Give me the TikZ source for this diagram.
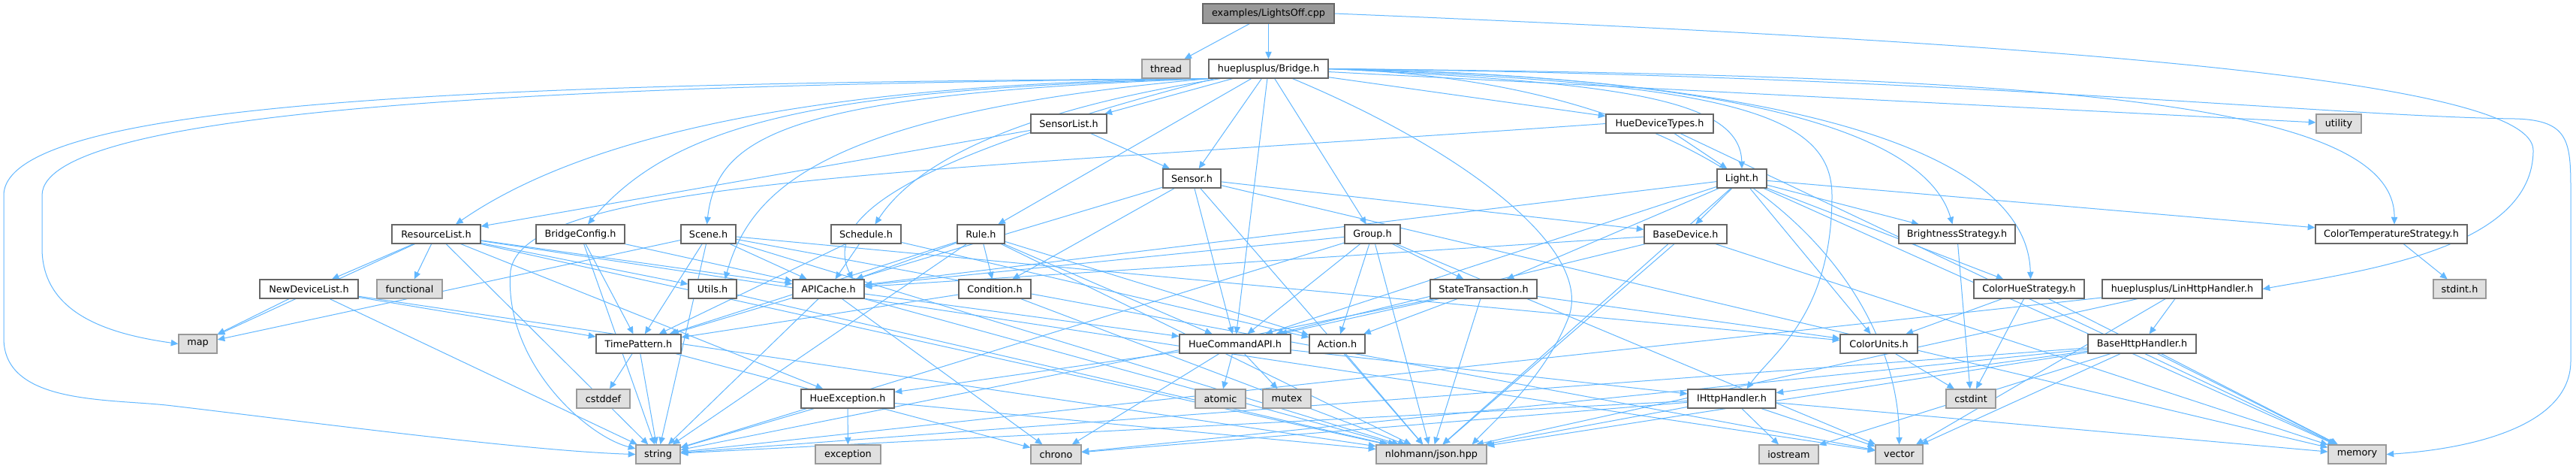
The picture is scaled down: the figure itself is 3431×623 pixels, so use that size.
\documentclass[tikz,border=0pt]{standalone}
\usepackage{fontspec}
\setmainfont{DejaVu Sans}
\usetikzlibrary{arrows.meta}
\definecolor{edgec}{HTML}{63B8FF}
\definecolor{fileb}{HTML}{666666}
\definecolor{extf}{HTML}{E0E0E0}
\definecolor{extb}{HTML}{999999}
\definecolor{rootf}{HTML}{999999}
\pgfdeclarelayer{paper}
\pgfdeclarelayer{edges}
\pgfsetlayers{paper,edges,main}
\tikzset{
  nbase/.style={draw, line width=0.65pt, inner sep=0pt, font=\fontsize{6.4}{7.5}\selectfont, text=black},
  file/.style={nbase, fill=white, draw=fileb},
  ext/.style={nbase, fill=extf, draw=extb},
  rootn/.style={nbase, fill=rootf, draw=fileb},
  edge/.style={draw=edgec, line width=0.5pt, -{Triangle[length=4.8pt,width=4.2pt]}},
}
\newcommand{\dnode}[7]{\node[#1, minimum width={(#5-#3)*0.5pt}, minimum height={(#6-#4)*0.5pt}] (#2) at ({(#3+#5)/2},{(#4+#6)/2}) {#7};}
\begin{document}
\begin{tikzpicture}[x=0.5pt,y=-0.5pt]
\begin{pgfonlayer}{paper}
\fill[white] (0,0) rectangle (3431,623);
\end{pgfonlayer}
\useasboundingbox (0,0) rectangle (3431,623);
% nodes
\dnode{rootn}{root}{1602}{5}{1777}{31}{examples/LightsOff.cpp}
\dnode{ext}{thread}{1521}{79}{1585}{104}{thread}
\dnode{file}{bridge}{1610}{79}{1769}{104}{hueplusplus/Bridge.h}
\dnode{file}{sensorlist}{1373}{152}{1474}{177}{SensorList.h}
\dnode{file}{huedev}{2139}{152}{2282}{177}{HueDeviceTypes.h}
\dnode{ext}{utility}{3085}{152}{3145}{177}{utility}
\dnode{file}{sensor}{1549}{225}{1626}{250}{Sensor.h}
\dnode{file}{light}{2287}{225}{2353}{250}{Light.h}
\dnode{file}{reslist}{522}{299}{640}{324}{ResourceList.h}
\dnode{file}{bconf}{714}{299}{832}{324}{BridgeConfig.h}
\dnode{file}{scene}{907}{299}{980}{324}{Scene.h}
\dnode{file}{schedule}{1107}{299}{1200}{324}{Schedule.h}
\dnode{file}{rule}{1275}{299}{1338}{324}{Rule.h}
\dnode{file}{group}{1791}{299}{1865}{324}{Group.h}
\dnode{file}{basedev}{2190}{299}{2300}{324}{BaseDevice.h}
\dnode{file}{bright}{2529}{299}{2684}{324}{BrightnessStrategy.h}
\dnode{file}{ctemp}{3084}{299}{3286}{324}{ColorTemperatureStrategy.h}
\dnode{file}{newdev}{346}{372}{477}{397}{NewDeviceList.h}
\dnode{ext}{functional}{502}{372}{589}{397}{functional}
\dnode{file}{utils}{917}{372}{981}{397}{Utils.h}
\dnode{file}{apicache}{1056}{372}{1151}{397}{APICache.h}
\dnode{file}{condition}{1277}{372}{1373}{397}{Condition.h}
\dnode{file}{statet}{1905}{372}{2047}{397}{StateTransaction.h}
\dnode{file}{chue}{2629}{372}{2776}{397}{ColorHueStrategy.h}
\dnode{file}{linhttp}{2800}{372}{3013}{397}{hueplusplus/LinHttpHandler.h}
\dnode{ext}{stdinth}{3241}{372}{3311}{397}{stdint.h}
\dnode{ext}{map}{238}{445}{289}{470}{map}
\dnode{file}{timep}{794}{445}{907}{470}{TimePattern.h}
\dnode{file}{huecmd}{1571}{445}{1719}{470}{HueCommandAPI.h}
\dnode{file}{action}{1744}{445}{1818}{470}{Action.h}
\dnode{file}{cunits}{2451}{445}{2554}{470}{ColorUnits.h}
\dnode{file}{basehttp}{2781}{445}{2925}{470}{BaseHttpHandler.h}
\dnode{ext}{cstddef}{768}{518}{839}{543}{cstddef}
\dnode{file}{hueexc}{1067}{518}{1191}{543}{HueException.h}
\dnode{ext}{atomic}{1592}{518}{1659}{543}{atomic}
\dnode{ext}{mutex}{1682}{518}{1746}{543}{mutex}
\dnode{file}{ihttp}{2248}{518}{2365}{543}{IHttpHandler.h}
\dnode{ext}{cstdint}{2592}{518}{2658}{543}{cstdint}
\dnode{ext}{string}{847}{592}{906}{617}{string}
\dnode{ext}{exception}{1086}{592}{1173}{617}{exception}
\dnode{ext}{chrono}{1373}{592}{1440}{617}{chrono}
\dnode{ext}{json}{1833}{592}{1980}{617}{nlohmann/json.hpp}
\dnode{ext}{iostream}{2343}{592}{2422}{617}{iostream}
\dnode{ext}{vector}{2498}{592}{2561}{617}{vector}
\dnode{ext}{memory}{3101}{592}{3178}{617}{memory}
\begin{pgfonlayer}{edges}
% straight connectors
\foreach \a/\b in {root/thread, root/bridge,
  bridge/sensorlist, bridge/sensor, bridge/rule, bridge/group, bridge/huedev, bridge/huecmd, bridge/utility,
  sensorlist/reslist, sensorlist/sensor,
  huedev/light, huedev/memory,
  sensor/basedev, sensor/huecmd, sensor/timep, sensor/condition, sensor/json, sensor/memory,
  light/basedev, light/bright, light/chue, light/ctemp, light/statet, light/huecmd, light/apicache, light/cunits, light/json, light/memory,
  reslist/newdev, reslist/functional, reslist/map, reslist/string, reslist/vector, reslist/utils, reslist/apicache, reslist/hueexc, reslist/json,
  bconf/apicache, bconf/timep, bconf/string,
  scene/map, scene/string, scene/vector, scene/apicache, scene/cunits, scene/timep, scene/json,
  schedule/apicache, schedule/timep, schedule/action,
  rule/condition, rule/huecmd, rule/apicache, rule/timep, rule/action, rule/json, rule/string,
  group/apicache, group/action, group/huecmd, group/statet, group/json, group/string, group/vector,
  basedev/apicache, basedev/huecmd, basedev/json, basedev/memory,
  bright/cstdint, ctemp/stdinth,
  newdev/map, newdev/string, newdev/timep, newdev/json,
  utils/json,
  apicache/string, apicache/chrono, apicache/huecmd, apicache/json,
  condition/timep, condition/json,
  statet/action, statet/huecmd, statet/cunits, statet/json, statet/string,
  chue/cunits, chue/cstdint, chue/memory,
  linhttp/basehttp, linhttp/string, linhttp/vector, linhttp/json,
  timep/cstddef, timep/string, timep/chrono,
  huecmd/atomic, huecmd/mutex, huecmd/chrono, huecmd/hueexc, huecmd/ihttp,
  action/json, cunits/cstdint,
  basehttp/ihttp, basehttp/vector, basehttp/memory, basehttp/string, basehttp/chrono, basehttp/json, basehttp/iostream,
  hueexc/exception, hueexc/string, hueexc/json,
  ihttp/iostream, ihttp/vector, ihttp/memory, ihttp/chrono, ihttp/string, ihttp/json}
  \draw[edge] (\a) -- (\b);
% curved connectors from Bridge, to the left
\draw[edge] (bridge.south west) .. controls (1150,110) and (800,165) .. ([xshift=13pt]reslist.north);
\draw[edge] (bridge.south west) .. controls (1100,118) and (900,160) .. ([xshift=5pt]bconf.north);
\draw[edge] (bridge.south west) .. controls (1050,125) and (955,180) .. ([xshift=-1pt]scene.north);
\draw[edge] ([xshift=8pt]bridge.south west) .. controls (1400,140) and (1230,200) .. ([xshift=6pt]schedule.north);
\draw[edge] (bridge.south west) .. controls (1100,150) and (1000,250) .. ([xshift=-8pt]utils.north east);
\draw[edge] ([xshift=4pt]bridge.south west) .. controls (1250,200) and (1090,280) .. ([xshift=-8pt]apicache.north east);
% curved connectors from Bridge, to the right
\draw[edge] (bridge.east) .. controls (2150,110) and (2318,130) .. (light.north);
\draw[edge] (bridge.east) .. controls (2250,100) and (2560,160) .. ([xshift=-3pt]bright.north);
\draw[edge] (bridge.east) .. controls (2300,100) and (2700,180) .. ([xshift=1pt]chue.north);
\draw[edge] (bridge.east) .. controls (2700,100) and (3190,130) .. ([xshift=2pt]ctemp.north);
\draw[edge] (bridge.east) .. controls (2300,110) and (2440,150) .. (2440,260)
  .. controls (2440,420) and (2360,470) .. ([xshift=10pt]ihttp.north);
\draw[edge] ([xshift=-24pt]bridge.south east) .. controls (1950,200) and (2120,330) .. (2090,420)
  .. controls (2060,500) and (1990,560) .. ([xshift=-10pt]json.north east);
\draw[edge] (bridge.east) .. controls (2350,110) and (2530,400) .. (vector.north);
% long routes round the sides
\draw[edge] (bridge.south west) .. controls (700,110) and (5,130) .. (5,260) -- (5,450)
  .. controls (5,540) and (150,530) .. (230,540) .. controls (400,560) and (700,600) .. (string.west);
\draw[edge] (bridge.south west) .. controls (800,112) and (56,140) .. (56,260) -- (56,330)
  .. controls (56,420) and (150,445) .. (map.west);
\draw[edge] (bridge.east) .. controls (2600,100) and (3100,155) .. (3350,158)
  .. controls (3424,160) and (3424,190) .. (3424,260) -- (3424,480)
  .. controls (3424,580) and (3250,600) .. (memory.east);
\draw[edge] (root.east) .. controls (2800,60) and (3374,110) .. (3374,200)
  .. controls (3374,330) and (3150,360) .. (linhttp.east);
\draw[edge] (huedev.west) .. controls (1200,230) and (700,240) .. (680,360)
  .. controls (670,480) and (780,580) .. (string);
\end{pgfonlayer}
\end{tikzpicture}
\end{document}
